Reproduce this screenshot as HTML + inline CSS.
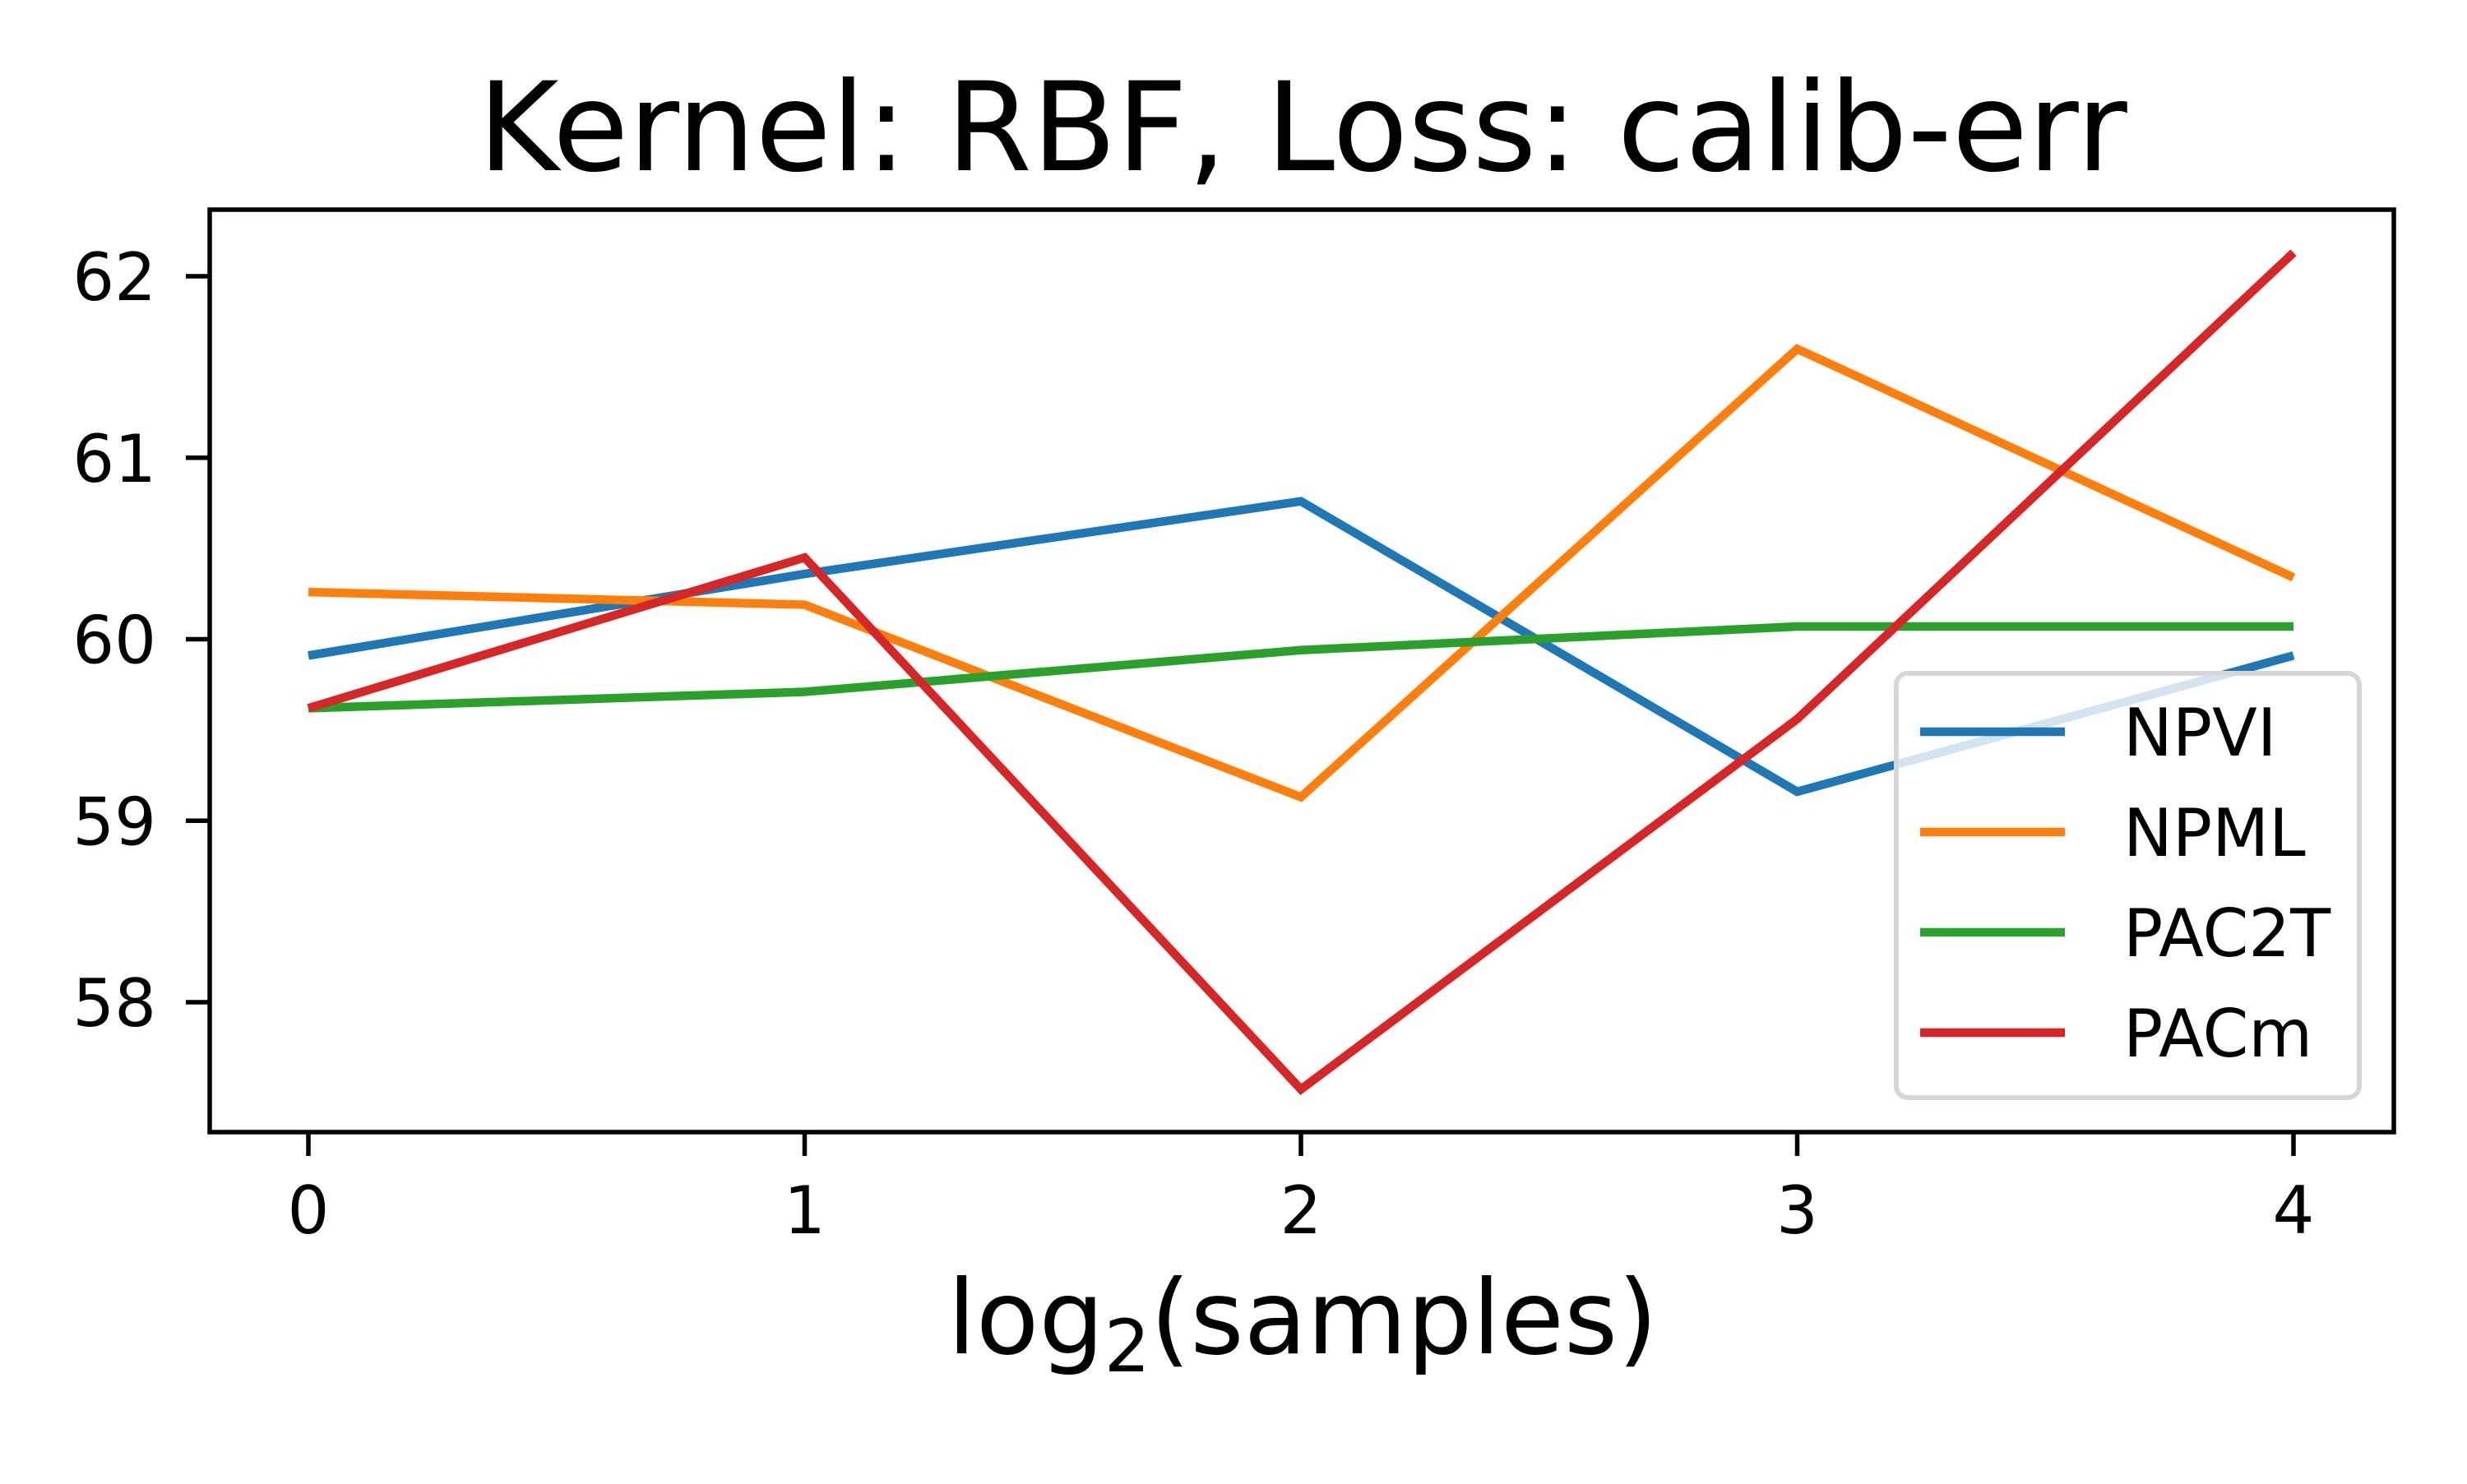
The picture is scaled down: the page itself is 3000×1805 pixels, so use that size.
<!DOCTYPE html>
<html><head><meta charset="utf-8"><style>
body{margin:0;background:#fff}
svg text{font-family:"DejaVu Sans","Liberation Sans",sans-serif}
</style></head><body>
<svg id="chart" width="3000" height="1800" xmlns="http://www.w3.org/2000/svg">
<rect width="3000" height="1800" fill="#fff"/>
<text x="1584" y="207" font-size="150" text-anchor="middle">Kernel: RBF, Loss: calib-err</text>
<text x="1584" y="1646" font-size="125" text-anchor="middle">log<tspan font-size="88" dy="22">2</tspan><tspan dy="-22">(samples)</tspan></text>
<g id="plot"></g>
</svg>
<script>
const xCats=[0,1,2,3,4];
const yTicks=[58,59,60,61,62];
const seriesNames=["NPVI","NPML","PAC2T","PACm"];
const colors=["#1f77b4","#ff7f0e","#2ca02c","#d62728"];
const npvi=[59.91,60.36,60.76,59.16,59.91];
const npml=[60.26,60.19,59.13,61.60,60.34];
const pac2t=[59.62,59.71,59.94,60.07,60.07];
const pacm=[59.62,60.45,57.52,59.56,62.13];
const allSeries=[npvi,npml,pac2t,pacm];
const L=255,R=2911,T=255,B=1377;
const xs=v=>375+(v-0)*(2789-375)/4;
const ys=v=>1219-(v-58)*(1219-336)/4;
const NS="http://www.w3.org/2000/svg";
const g=document.getElementById('plot');
function mk(t,a){const e=document.createElementNS(NS,t);for(const k in a)e.setAttribute(k,a[k]);g.appendChild(e);return e;}
allSeries.forEach((s,i)=>{
 const p=mk('polyline',{points:s.map((v,j)=>xs(xCats[j])+','+ys(v)).join(' '),fill:'none',stroke:colors[i],'stroke-width':10.5,'stroke-linejoin':'miter'});
 
 
});
const fr=mk('rect',{x:L,y:T,width:R-L,height:B-T,fill:'none',stroke:'#000','stroke-width':5.5});


xCats.forEach(c=>{
 const tk=mk('line',{x1:xs(c),x2:xs(c),y1:B,y2:B+29,stroke:'#000','stroke-width':5.5});
 
 
 const t=mk('text',{x:xs(c),y:1500,'font-size':80,'text-anchor':'middle'});t.textContent=c;
 
 
});
yTicks.forEach(v=>{
 const tk=mk('line',{x1:L-29,x2:L,y1:ys(v),y2:ys(v),stroke:'#000','stroke-width':5.5});
 
 
 const t=mk('text',{x:190,y:ys(v)+29,'font-size':80,'text-anchor':'end'});t.textContent=v;
 
 
});
const lb=mk('rect',{x:2306,y:819,width:563,height:516,rx:14,fill:'#fff','fill-opacity':0.8,stroke:'#d6d6d6','stroke-width':6});


seriesNames.forEach((n,i)=>{
 const y=890+i*122;
 const l=mk('line',{x1:2335,x2:2511,y1:y,y2:y,stroke:colors[i],'stroke-width':10.5});
 
 
 const t=mk('text',{x:2582,y:y+29,'font-size':80});t.textContent=n;
 
 
});
</script>
</body></html>
